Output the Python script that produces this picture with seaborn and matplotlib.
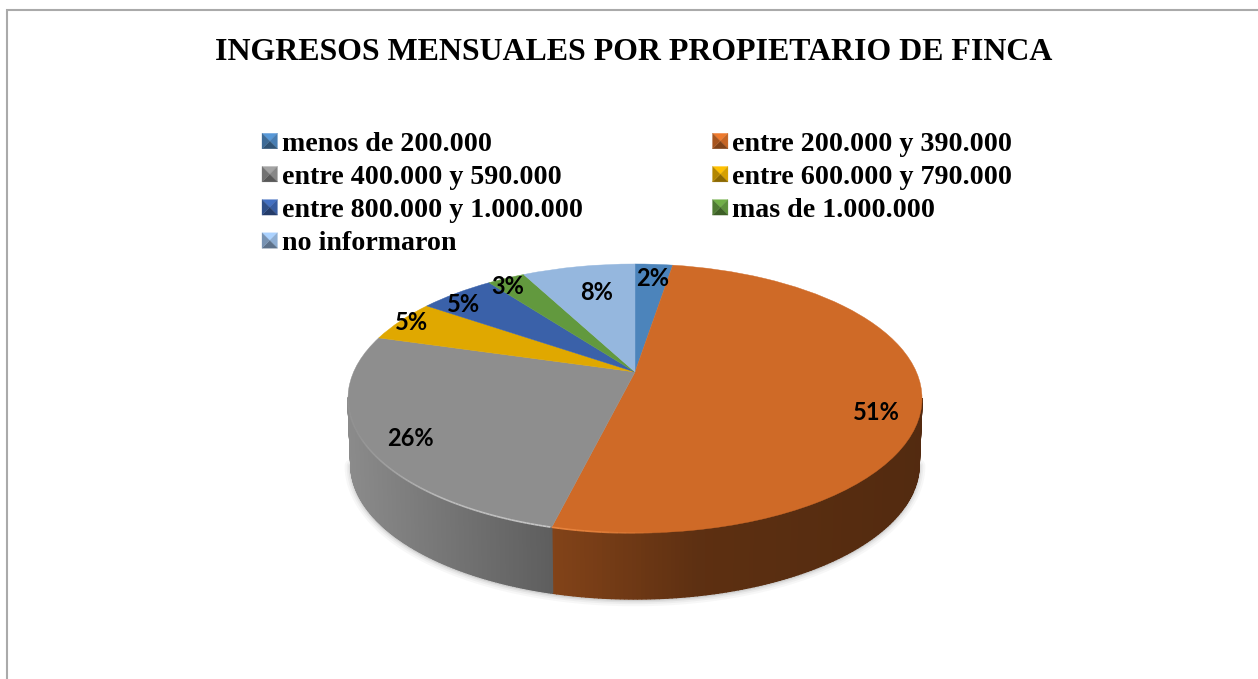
import numpy as np
import matplotlib
matplotlib.use("Agg")
import matplotlib.pyplot as plt
import seaborn as sns
from matplotlib.legend_handler import HandlerBase
from matplotlib.patches import Polygon, Patch
from matplotlib.transforms import Transform

CATEGORIES = ["menos de 200.000", "entre 200.000 y 390.000", "entre 400.000 y 590.000",
              "entre 600.000 y 790.000", "entre 800.000 y 1.000.000", "mas de 1.000.000",
              "no informaron"]
VALUES = [2.56, 51.28, 25.64, 5.13, 5.13, 2.56, 7.69]
PCT_LABELS = ["2%", "51%", "26%", "5%", "5%", "3%", "8%"]
COLORS = ["#4c84bb", "#cf6a27", "#8e8e8e", "#e0a800", "#3a61a9", "#62993e", "#95b7de"]
TITLE = "INGRESOS MENSUALES POR PROPIETARIO DE FINCA"

# layout, in pixels of the output image
LABEL_XY = [(653, 278), (876, 413), (410, 439), (412, 322), (463, 304), (508, 287), (597, 292)]
CX, CY = 635, 372
K, B, P = 281.4, 129.3, 0.197
DEPTH = 66
BOTTOM_SHRINK = 0.99
# wall darkening against x, only the two front slices show a wall
WALL_SHADE = {1: ([554, 700, 922], [0.63, 0.45, 0.40]),
              2: ([348, 554], [0.98, 0.66])}


class DiskPerspective(Transform):
    """Unit disk tilted back, gives pixel coordinates."""
    input_dims = 2
    output_dims = 2
    is_separable = False
    has_inverse = False

    def transform_non_affine(self, values):
        x, y = np.asarray(values).T
        w = 1 + P * y
        return np.column_stack([CX + K * x / w, CY - B * y / w])


def lower_rim(pts):
    out = pts + [0, DEPTH]
    out[:, 0] = CX + (out[:, 0] - CX) * BOTTOM_SHRINK
    return out


class HandlerBevel(HandlerBase):
    """Legend swatch with four bevel faces around a small centre."""
    def create_artists(self, legend, orig_handle, xd, yd, w, h, fontsize, trans):
        c = np.array(matplotlib.colors.to_rgb(orig_handle.get_facecolor()))
        y0 = -yd + (h - w) / 2
        x0 = -xd
        tl, tr, br, bl = (x0, y0 + w), (x0 + w, y0 + w), (x0 + w, y0), (x0, y0)
        mid = (x0 + w * 0.5, y0 + w * 0.5)
        faces = [([tl, tr, mid], np.clip(c * 1.15, 0, 1)),
                 ([tr, br, mid], c * 0.95),
                 ([br, bl, mid], c * 0.62),
                 ([bl, tl, mid], c * 0.8)]
        return [Polygon(p, closed=True, fc=f, ec=f, lw=0.2, transform=trans) for p, f in faces]


sns.set_theme(style="white")
palette = sns.color_palette(COLORS)

fig = plt.figure(figsize=(12.58, 6.79), dpi=100, facecolor="white")
ax = fig.add_axes([0, 0, 1, 1])

wedges, _ = ax.pie(VALUES, colors=palette, startangle=90, counterclock=False, radius=1)
ax.set_aspect("auto")
ax.set_xlim(0, 1258)
ax.set_ylim(679, 0)
ax.axis("off")

persp = DiskPerspective()
for w, col in zip(wedges, palette):
    w.set_transform(persp + ax.transData)
    w.set_edgecolor(col)
    w.set_linewidth(0.3)
    w.set_zorder(5)
    w.set_clip_on(False)

# soft shadow under the body
th = np.radians(np.linspace(180, 360, 300))
th = th[np.sin(th) < -P]
rim = persp.transform_non_affine(np.column_stack([np.cos(th), np.sin(th)]))
low = lower_rim(rim)
for lw, a in [(9, 0.05), (6, 0.07), (3.5, 0.10), (1.5, 0.14)]:
    ax.plot(low[:, 0], low[:, 1] + 1, color="#707070", lw=lw, alpha=a, zorder=1)

# side wall
for i, (xs, fs) in WALL_SHADE.items():
    w = wedges[i]
    a = np.linspace(w.theta1, w.theta2, 260)
    a = a[np.sin(np.radians(a)) < -P + 0.01]
    pts = persp.transform_non_affine(np.column_stack([np.cos(np.radians(a)), np.sin(np.radians(a))]))
    bot = lower_rim(pts)
    base = np.array(palette[i])
    for j in range(len(pts) - 1):
        f = np.interp((pts[j, 0] + pts[j + 1, 0]) / 2, xs, fs)
        quad = [pts[j], pts[j + 1], bot[j + 1], bot[j]]
        ax.add_patch(Polygon(quad, closed=True, fc=base * f, ec=base * f, lw=1.0, zorder=2))

# light rim on the front edge, fades away from the slice boundary
for i, col, xs, alphas in [(1, "#e9853f", [554, 600, 660], [1, 0.8, 0]),
                           (2, "#c8c8c8", [355, 440, 554], [0.1, 0.8, 1])]:
    w = wedges[i]
    a = np.radians(np.linspace(w.theta1, w.theta2, 400))
    a = a[np.sin(a) < -P]
    pts = persp.transform_non_affine(np.column_stack([np.cos(a), np.sin(a)]))
    for j in range(0, len(pts) - 3, 3):
        al = float(np.interp(pts[j, 0], xs, alphas))
        if al > 0:
            ax.plot(pts[j:j + 4, 0], pts[j:j + 4, 1], color=col, lw=1.2, alpha=al, zorder=6,
                    solid_capstyle="butt")

for (x, y), txt in zip(LABEL_XY, PCT_LABELS):
    ax.text(x, y, txt, family="Lato", weight="bold", fontsize=17, color="black",
            ha="center", va="center", zorder=8)

ax.text(634, 53, TITLE, family="Liberation Serif", weight="bold", fontsize=22.95,
        color="black", ha="center", va="center")

# legend fills by column, so hand over the left column first
order = [0, 2, 4, 6, 1, 3, 5]
handles = [Patch(facecolor=COLORS[i]) for i in order]
labels = [CATEGORIES[i] for i in order]
ax.legend(handles, labels, ncol=2, loc="upper left", bbox_to_anchor=(262, 132),
          bbox_transform=ax.transData, frameon=False, borderpad=0, borderaxespad=0,
          prop={"family": "Liberation Serif", "weight": "bold", "size": 20.2},
          labelcolor="black",
          labelspacing=0.29, handlelength=0.55, handleheight=0.55, handletextpad=0.16,
          columnspacing=4.62, handler_map={Patch: HandlerBevel()})

# frame, cut off on the right and bottom
ax.plot([7, 7, 1258], [679, 10, 10], color="#aaaaaa", lw=1.5, zorder=0,
        solid_joinstyle="miter", clip_on=False)

fig.savefig("out.png", dpi=100, facecolor="white")
plt.close(fig)
